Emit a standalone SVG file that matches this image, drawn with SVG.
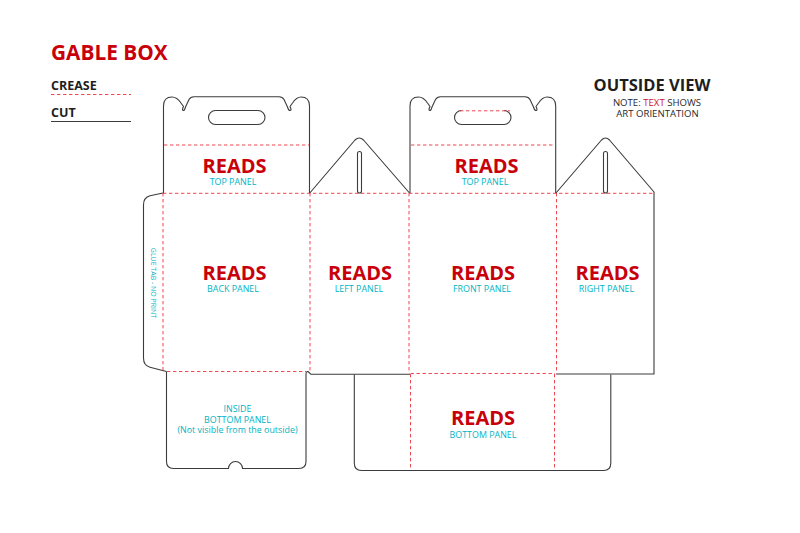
<svg xmlns="http://www.w3.org/2000/svg" width="800" height="533" viewBox="0 0 800 533">
<style>
text{font-family:"Open Sans","Liberation Sans",sans-serif;text-anchor:middle}
.cut{fill:none;stroke:#3c3c3c;stroke-width:1.1;stroke-linejoin:round}
.crease{fill:none;stroke:#f0323c;stroke-width:.9;stroke-dasharray:3.4 2.6}
.reads{font-size:20px;font-weight:700;fill:#c8000a}
.lab{font-size:8.9px;fill:#00b4c4}
.head{font-weight:700;fill:#1e1e1e}
.note{font-size:9.6px;fill:#2a2a2a}
</style>
<rect width="800" height="533" fill="#fff"/>
<g id="legend">
<text x="51" y="60" style="text-anchor:start;font-size:20.800px;font-weight:700;fill:#c8000a">GABLE BOX</text>
<text x="51" y="90" style="text-anchor:start;font-size:12.500px" class="head">CREASE</text>
<path class="crease" d="M51 94.500H131"/>
<text x="51" y="117" style="text-anchor:start;font-size:12.500px" class="head">CUT</text>
<path class="cut" d="M51 121.500H131"/>
</g>
<g id="outside-view">
<text x="652" y="91" class="head" style="font-size:16.500px">OUTSIDE VIEW</text>
<text x="657" y="105.500" class="note">NOTE: <tspan fill="#d2141e">TEXT</tspan> SHOWS</text>
<text x="657.500" y="117" class="note">ART ORIENTATION</text>
</g>
<g id="connectors">
<g id="cuts">
<path class="cut" d="M163.500 193V106Q163.500 97 172 97Q177 97 181 103L183.500 106.500Q181.500 110.500 183.500 110.500Q184.500 110.500 185.500 107L189 99.500Q190.500 96.700 194 96.700H279Q282.500 96.700 284 99.500L287.500 107Q288.500 110.500 290 110.500Q292 110.500 290 106.500L292.500 103Q296.500 97 301 97Q309.500 97 309.500 106V193"/>
<rect class="cut" x="208.500" y="110.500" width="56.500" height="14" rx="7"/>
<path class="cut" d="M309.800 193L355 140Q359.300 136 363.500 140L409.500 193"/>
<rect class="cut" x="357.500" y="151.500" width="4" height="41.500" rx="2"/>
<path class="cut" d="M410 193V106Q410 97 418.500 97Q423.500 97 427.500 103L430 106.500Q428 110.500 430 110.500Q431 110.500 432 107L435.500 99.500Q437 96.700 440.500 96.700H525Q528.500 96.700 530 99.500L533.500 107Q534.500 110.500 536 110.500Q538 110.500 536 106.500L538.500 103Q542.500 97 547 97Q555.700 97 555.700 106V193"/>
<path class="cut" d="M461.500 110.500A7 7 0 0 0 461.500 124.500H504A7 7 0 0 0 504 110.500"/>
<path class="cut" d="M556 193L601.500 140Q605.500 136 609.500 140L654 192V374H556"/>
<rect class="cut" x="603.500" y="151.500" width="4" height="41.500" rx="2"/>
<path class="cut" d="M163 193L150 195.800Q143.500 197.500 143.500 205V358Q143.500 365.500 150 367.300L166.500 371.500"/>
<path class="cut" d="M166.500 371.500V461.500Q166.500 468.500 173.500 468.500H228.500A7 7 0 0 1 242.500 468.500H299Q306 468.500 306 461.500V374Q306 371.200 308 371.500L311 374.300H410"/>
<path class="cut" d="M354.300 374.500V463Q354.300 470.500 361.500 470.500H603.500Q610.800 470.500 610.800 463V374.500"/>
</g>
<g id="creases">
<path class="crease" d="M164 145H309M411 145H555M460 110.800H510M163 193.300H654M163 193V371M310 193V372M409 193V372.500M556.500 193V373M167 371.500H306M410.500 373.500H555M410.500 374V470M554.500 374V470"/>
</g>
</g>
<g id="top-panel-back"><text x="234.500" y="172.500" class="reads">READS</text><text x="233" y="185" class="lab">TOP PANEL</text></g>
<g id="top-panel-front"><text x="486.500" y="172.500" class="reads">READS</text><text x="485" y="185" class="lab">TOP PANEL</text></g>
<g id="back-panel"><text x="234.500" y="279.500" class="reads">READS</text><text x="233" y="292" class="lab">BACK PANEL</text></g>
<g id="left-panel"><text x="360" y="279.500" class="reads">READS</text><text x="359" y="292" class="lab">LEFT PANEL</text></g>
<g id="front-panel"><text x="483" y="279.500" class="reads">READS</text><text x="482" y="292" class="lab">FRONT PANEL</text></g>
<g id="right-panel"><text x="607.500" y="279.500" class="reads">READS</text><text x="606.500" y="292" class="lab">RIGHT PANEL</text></g>
<g id="bottom-panel"><text x="483" y="425" class="reads">READS</text><text x="483" y="438" class="lab">BOTTOM PANEL</text></g>
<g id="inside-bottom-panel"><text x="237.500" y="412" class="lab">INSIDE</text><text x="237.500" y="423" class="lab">BOTTOM PANEL</text><text x="237.500" y="433" class="lab">(Not visible from the outside)</text></g>
<g id="glue-tab"><text transform="translate(151 283) rotate(90)" style="font-size:7px" fill="#00b4c4">GLUE TAB - NO PRINT</text></g>
</svg>
